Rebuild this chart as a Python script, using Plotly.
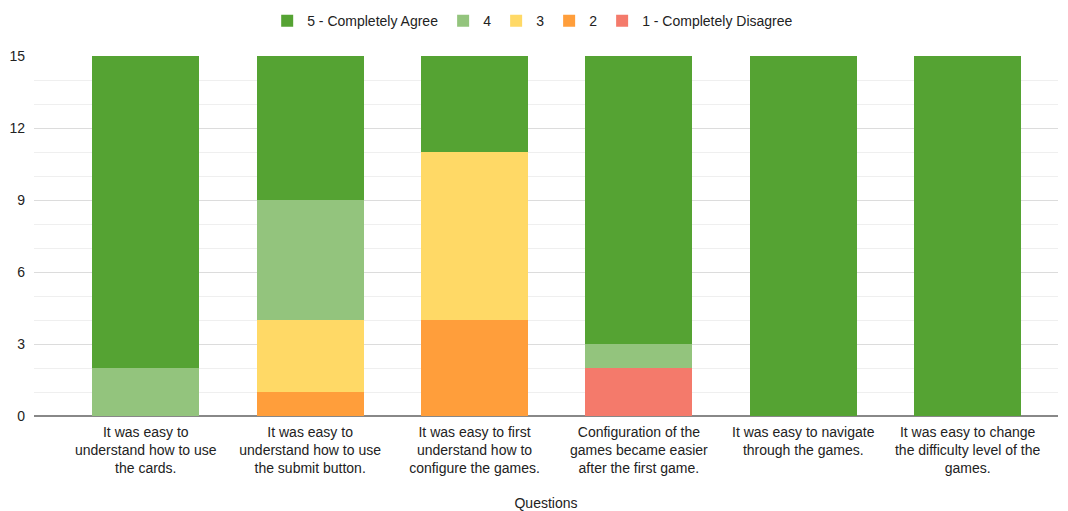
import plotly.graph_objects as go

questions = [
    "It was easy to<br>understand how to use<br>the cards.",
    "It was easy to<br>understand how to use<br>the submit button.",
    "It was easy to first<br>understand how to<br>configure the games.",
    "Configuration of the<br>games became easier<br>after the first game.",
    "It was easy to navigate<br>through the games.",
    "It was easy to change<br>the difficulty level of the<br>games.",
]

# responses per rating, one value per question
rating_1 = [0, 0, 0, 2, 0, 0]
rating_2 = [0, 1, 4, 0, 0, 0]
rating_3 = [0, 3, 7, 0, 0, 0]
rating_4 = [2, 5, 0, 1, 0, 0]
rating_5 = [13, 6, 4, 12, 15, 15]

series = [
    ("1 - Completely Disagree", rating_1, "#f47a6b"),
    ("2", rating_2, "#ff9e3b"),
    ("3", rating_3, "#ffd966"),
    ("4", rating_4, "#93c47d"),
    ("5 - Completely Agree", rating_5, "#55a333"),
]

fig = go.Figure()
for name, vals, color in series:
    fig.add_trace(go.Bar(
        x=list(range(len(questions))), y=vals, name=name,
        marker=dict(color=color, line=dict(width=0)),
    ))

font = "Liberation Sans, Arial, sans-serif"
fig.update_layout(
    width=1068, height=511,
    barmode="stack", bargap=0.35,
    plot_bgcolor="white", paper_bgcolor="white",
    margin=dict(l=34, r=10, t=56, b=95),
    font=dict(family=font, size=14, color="#222222"),
    legend=dict(orientation="h", traceorder="reversed",
                x=0.487, xanchor="center", yref="container", y=0.99, yanchor="top",
                font=dict(size=14), itemwidth=30),
    xaxis=dict(
        tickmode="array", tickvals=list(range(len(questions))), ticktext=questions,
        range=[-0.68, 5.55], showgrid=False, zeroline=False, ticks="",
        showline=False, automargin=False, ticklabelstandoff=6,
        title=dict(text="Questions", standoff=32, font=dict(size=14)),
    ),
    yaxis=dict(
        range=[0, 15], dtick=3, tick0=0, showgrid=True, gridcolor="#dcdcdc",
        zeroline=True, zerolinecolor="#888888", zerolinewidth=1.5,
        minor=dict(dtick=1, showgrid=True, gridcolor="#efefef"),
        ticks="", ticklabelstandoff=8, automargin=False,
    ),
)

fig.write_html("out.html")
